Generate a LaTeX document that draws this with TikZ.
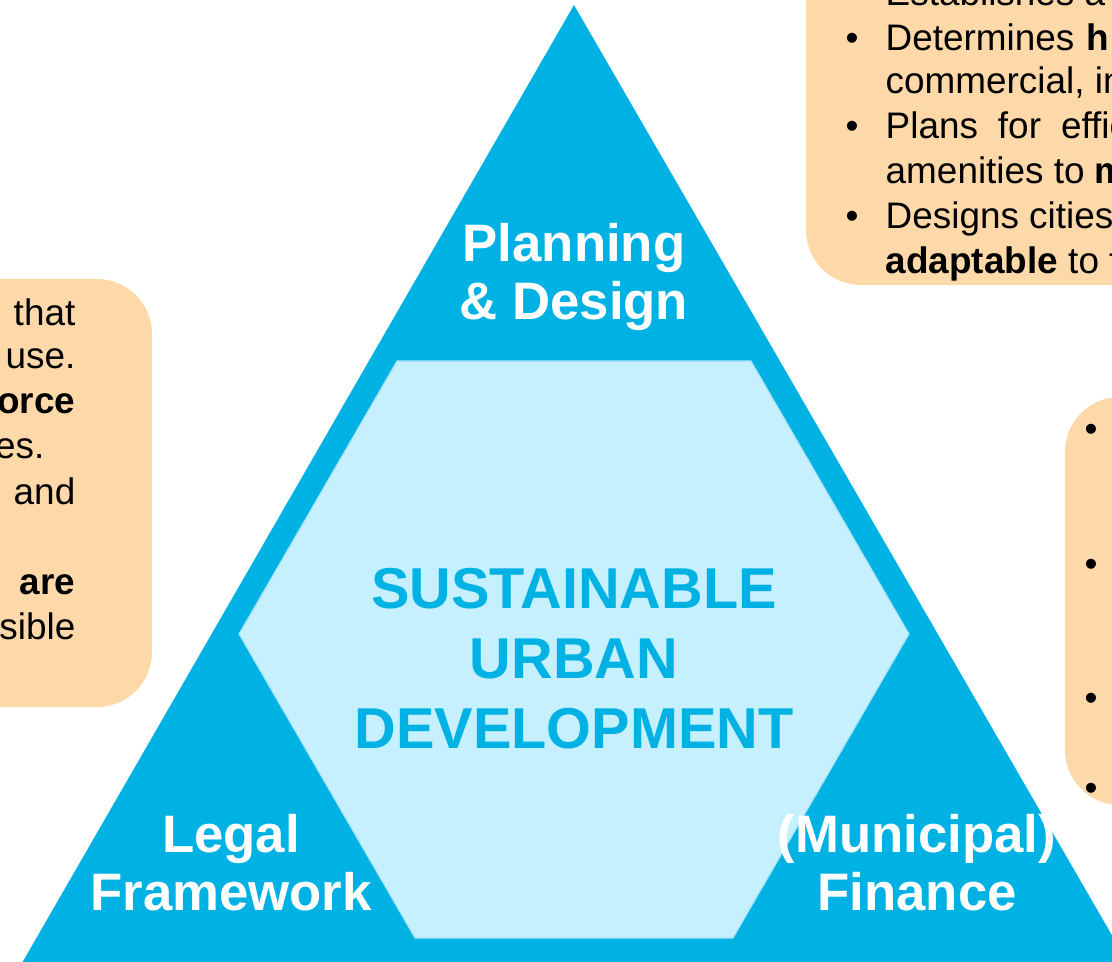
\documentclass[tikz,border=0pt]{standalone}
\usepackage{fontspec}
\setmainfont{Liberation Sans}
\usetikzlibrary{calc}
\definecolor{triblue}{RGB}{0,178,228}
\definecolor{hexfill}{RGB}{199,240,254}
\definecolor{hexline}{RGB}{160,226,248}
\definecolor{boxorange}{RGB}{253,216,168}
\tikzset{corner/.style={white, font=\fontsize{15}{16.5}\selectfont\bfseries, align=center},
         hextext/.style={triblue, font=\fontsize{16.4}{19.9}\selectfont\bfseries, align=center},
         infobox/.style={fill=boxorange, rounded corners=0.55cm},
         boxline/.style={font=\fontsize{10.5}{12.8}\selectfont, inner sep=0pt}}

\begin{document}
\begin{tikzpicture}
\useasboundingbox (0,0) rectangle (11.12,9.61);

% big triangle and inner hexagon
\fill [triblue] (0.22,-0.02) -- (5.74,9.56) -- (11.28,-0.02) -- cycle;
\filldraw [fill=hexfill, draw=hexline, line width=0.3pt] (3.97,6.00) -- (7.51,6.00) -- (9.09,3.27)
      -- (7.33,0.23) -- (4.15,0.23) -- (2.39,3.27) -- cycle;

\node [corner] (plan) at (5.74,6.84) {Planning\\\& Design};
\node [hextext] (sud) at (5.74,3.02) {SUSTAINABLE\\URBAN\\DEVELOPMENT};
\node [corner] (legal) at (2.31,0.98) {Legal\\Framework};
\node [corner] (fin) at (9.17,0.98) {(Municipal)\\Finance};

% text boxes, cut by the page edge
\fill [infobox] (8.06,6.76) rectangle (12.0,10.6);
\fill [infobox] (-0.8,2.54) rectangle (1.52,6.82);
\fill [infobox] (10.65,1.56) rectangle (12.0,5.64);

% top right box
\node [boxline, anchor=base west] (l0) at (8.85,9.55) {Establishes a};
\node [boxline, anchor=base] (b1) at (8.52,9.10) {\textbullet};
\node [boxline, anchor=base west] (l1) at (8.85,9.10) {Determines\hspace{0.12cm}\textbf{h}};
\node [boxline, anchor=base west] (l2) at (8.85,8.67) {commercial, in};
\node [boxline, anchor=base] (b2) at (8.52,8.22) {\textbullet};
\node [boxline, anchor=base west] (l3) at (8.85,8.22) {Plans\hspace{0.2cm}for\hspace{0.2cm}effic};
\node [boxline, anchor=base west] (l4) at (8.85,7.77) {amenities to \textbf{m}};
\node [boxline, anchor=base] (b3) at (8.52,7.32) {\textbullet};
\node [boxline, anchor=base west] (l5) at (8.85,7.32) {Designs cities};
\node [boxline, anchor=base west] (l6) at (8.85,6.87) {\textbf{adaptable} to f};

% left box
\node [boxline, anchor=base east] (r1) at (0.76,6.35) {that};
\node [boxline, anchor=base east] (r2) at (0.76,5.92) {use.};
\node [boxline, anchor=base east] (r3) at (0.76,5.47) {\textbf{orce}};
\node [boxline, anchor=base east] (r4) at (0.45,5.02) {es.};
\node [boxline, anchor=base east] (r5) at (0.76,4.57) {and};
\node [boxline, anchor=base east] (r6) at (0.76,3.67) {\textbf{are}};
\node [boxline, anchor=base east] (r7) at (0.76,3.22) {sible};

% right box, only the bullets show
\foreach \y [count=\i] in {5.19,3.85,2.51,1.61}
  \node [boxline, anchor=base] (m\i) at (10.91,\y) {\textbullet};
\end{tikzpicture}
\end{document}
